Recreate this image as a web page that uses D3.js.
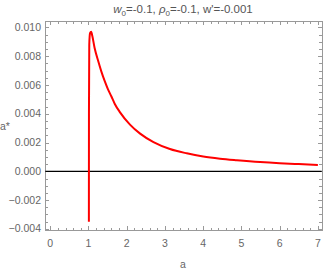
<!DOCTYPE html>
<html>
<head>
<meta charset="utf-8">
<script src="https://cdn.jsdelivr.net/npm/d3@7"></script>
<style>
  html, body { margin: 0; padding: 0; background: #fff; }
  svg { display: block; font-family: "Liberation Sans", Arial, sans-serif; }
</style>
</head>
<body>
<svg id="chart" width="327" height="273"></svg>
<script>
// Values.
var aValues = [1.01, 1.012, 1.02, 1.04, 1.07, 1.1, 1.16, 1.25, 1.335, 1.42, 1.51, 1.6, 1.685, 1.825, 2.085, 2.35, 2.7, 3.13, 3.57, 4.0, 4.44, 4.88, 5.49, 6, 6.5, 7];
var aStar = [-0.0035, 0.004, 0.0088, 0.0096, 0.0097, 0.0094, 0.00857, 0.0077, 0.00695, 0.0063, 0.0057, 0.0052, 0.0047, 0.0041, 0.00325, 0.00262, 0.00203, 0.00155, 0.00125, 0.00103, 0.00088, 0.00077, 0.00064, 0.00056, 0.0005, 0.00044];
var xTicks = [0, 1, 2, 3, 4, 5, 6, 7];
var yTicks = [-0.004, -0.002, 0, 0.002, 0.004, 0.006, 0.008, 0.010];

(function () {
  var svg = d3.select("#chart");
  var left = 45.3, right = 321.7, top = 21, bottom = 230;

  var x = d3.scaleLinear().domain([-0.13, 7.1]).range([left, right]);
  var y = d3.scaleLinear().domain([-0.00408, 0.01045]).range([bottom, top]);

  var frameColor = "#999", labelColor = "#666";

  // minor ticks: x every 0.2, y every 0.0005
  var xMinor = d3.range(0, 7.01, 0.2).filter(function (v) { return Math.abs(v - Math.round(v)) > 1e-6; });
  var yMinor = d3.range(-0.004, 0.0101, 0.0005).filter(function (v) {
    return Math.abs(v / 0.002 - Math.round(v / 0.002)) > 1e-6;
  });

  var g = svg.append("g").attr("stroke", frameColor).attr("stroke-width", 1).attr("shape-rendering", "crispEdges");

  function xTick(vals, len) {
    vals.forEach(function (v) {
      var px = Math.round(x(v)) + 0.5;
      g.append("line").attr("x1", px).attr("x2", px).attr("y1", bottom).attr("y2", bottom - len);
      g.append("line").attr("x1", px).attr("x2", px).attr("y1", top).attr("y2", top + len);
    });
  }
  function yTick(vals, len) {
    vals.forEach(function (v) {
      var py = Math.round(y(v)) + 0.5;
      g.append("line").attr("y1", py).attr("y2", py).attr("x1", left).attr("x2", left + len);
      g.append("line").attr("y1", py).attr("y2", py).attr("x1", right).attr("x2", right - len);
    });
  }
  xTick(xTicks, 4); xTick(xMinor, 2.5);
  yTick(yTicks, 4); yTick(yMinor, 2.5);

  g.append("rect").attr("x", Math.round(left) + 0.5).attr("y", Math.round(top) + 0.5)
    .attr("width", Math.round(right) - Math.round(left)).attr("height", Math.round(bottom) - Math.round(top))
    .attr("fill", "none");

  // tick labels
  svg.append("g").selectAll("text").data(xTicks).join("text")
    .attr("x", function (d) { return x(d); }).attr("y", 247)
    .attr("text-anchor", "middle").attr("font-size", 10.5).attr("fill", labelColor)
    .text(function (d) { return d; });

  var fmt = d3.format(".3f");
  svg.append("g").selectAll("text").data(yTicks).join("text")
    .attr("x", 41).attr("y", function (d) { return y(d) + 3.5; })
    .attr("text-anchor", "end").attr("font-size", 10.5).attr("fill", labelColor)
    .text(function (d) { return fmt(d).replace("-", "\u2212"); });

  // zero line
  svg.append("line")
    .attr("x1", left).attr("x2", right).attr("y1", y(0)).attr("y2", y(0))
    .attr("stroke", "#000").attr("stroke-width", 1.3);

  // curve
  var pts = aValues.map(function (a, i) { return [a, aStar[i]]; });
  svg.append("path").datum(pts)
    .attr("fill", "none").attr("stroke", "#ff0000").attr("stroke-width", 2)
    .attr("stroke-linejoin", "round")
    .attr("d", d3.line().x(function (d) { return x(d[0]); }).y(function (d) { return y(d[1]); }).curve(d3.curveMonotoneX));

  // axis labels
  svg.append("text").attr("x", 183).attr("y", 268).attr("text-anchor", "middle")
    .attr("font-size", 10.5).attr("fill", labelColor).text("a");
  svg.append("text").attr("x", 0).attr("y", 130)
    .attr("font-size", 10.5).attr("fill", labelColor).text("a*");

  // title
  var t = svg.append("text").attr("x", 183).attr("y", 13).attr("text-anchor", "middle")
    .attr("font-size", 11.5).attr("fill", "#555");
  t.append("tspan").attr("font-style", "italic").text("w");
  t.append("tspan").attr("font-size", 8).attr("dy", 2.5).text("0");
  t.append("tspan").attr("dy", -2.5).text("=-0.1, ");
  t.append("tspan").attr("font-style", "italic").text("\u03c1");
  t.append("tspan").attr("font-size", 8).attr("dy", 2.5).text("0");
  t.append("tspan").attr("dy", -2.5).text("=-0.1, w'=-0.001");
})();
</script>
</body>
</html>
